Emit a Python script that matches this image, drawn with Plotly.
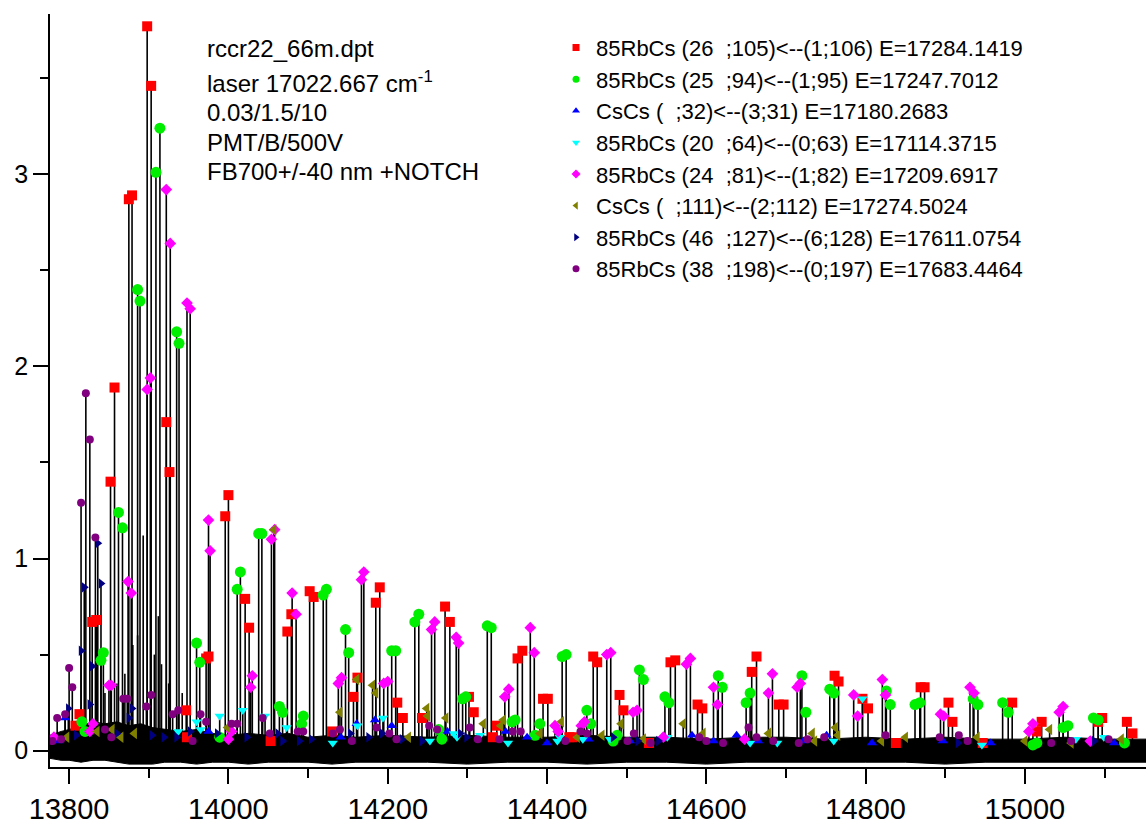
import plotly.graph_objects as go

# ---------------- data ----------------
rb26_105 = [(13898,3.77),(13903,3.46),(13875,2.87),(13879,2.89),(13857,1.89),(13852,1.40),(13922,1.71),(13926,1.45),
            (14000,1.33),(13996,1.22),(13829,0.67),(13834,0.68),(13808,0.13),(13813,0.19),(13947,0.21),(13948,0.07),
            (13972,0.48),(13975,0.49),(14021,0.79),(14026,0.64),(14053,0.05),(14074,0.62),(14079,0.71),(14102,0.83),
            (14107,0.80),(14130,0.10),(14157,0.28),(14162,0.38),(14185,0.77),(14190,0.85),(14212,0.25),(14219,0.17),
            (14243,0.17),(14272,0.75),(14278,0.67),(14302,0.28),(14308,0.20),(14332,0.07),(14337,0.13),(14363,0.48),
            (14369,0.52),(14395,0.27),(14401,0.27),(14428,0.07),(14432,0.07),(14458,0.49),(14463,0.46),(14491,0.29),
            (14496,0.21),(14528,0.04),(14555,0.46),(14561,0.47),(14589,0.24),(14595,0.22),(14657,0.41),(14663,0.49),
            (14691,0.24),(14697,0.24),(14761,0.39),(14766,0.36),(14796,0.27),(14803,0.22),(14838,0.04),(14869,0.33),
            (14874,0.33),(14904,0.25),(14909,0.15),(14947,0.04),(14984,0.25),(15015,0.10),(15021,0.15),(15092,0.15),
            (15097,0.17),(15128,0.15),(15135,0.09)]

rb25_94 = [(13914,3.24),(13909,3.01),(13886,2.40),(13889,2.34),(13935,2.18),(13938,2.12),(13862,1.24),(13867,1.16),
           (14015,0.93),(14011,0.84),(14038,1.13),(14042,1.13),(14119,0.81),(14123,0.84),(13843,0.51),(13840,0.47),
           (13960,0.56),(13964,0.46),(14147,0.63),(14151,0.51),(14234,0.67),(14239,0.71),(14205,0.52),(14210,0.52),
           (14064,0.23),(14068,0.20),(13816,0.15),(13820,0.10),(14094,0.18),(14092,0.14),(13989,0.07),(14294,0.27),
           (14298,0.28),(14325,0.65),(14330,0.64),(14356,0.15),(14360,0.16),(14264,0.11),(14268,0.06),(14385,0.08),
           (14391,0.14),(14419,0.49),(14424,0.50),(14450,0.21),(14455,0.14),(14483,0.05),(14488,0.08),(14516,0.42),
           (14521,0.37),(14548,0.28),(14553,0.25),(14615,0.39),(14620,0.33),(14650,0.25),(14655,0.30),(14720,0.39),
           (14725,0.20),(14755,0.32),(14760,0.30),(14826,0.31),(14831,0.24),(14862,0.24),(14868,0.25),(14935,0.27),
           (14941,0.24),(14972,0.25),(14979,0.20),(15010,0.03),(15015,0.04),(15048,0.12),(15054,0.13),(15086,0.17),
           (15092,0.16),(15125,0.04)]

cs_32 = [(13787,0.05),(13795,0.17),(13975,0.10),(14141,0.07),(14161,0.14),(14184,0.16),(14205,0.13),(14275,0.10),
         (14348,0.10),(14375,0.07),(14400,0.04),(14452,0.06),(14504,0.05),(14582,0.08),(14609,0.05),(14638,0.08),
         (14665,0.05),(14722,0.05),(14751,0.08),(14808,0.04),(14897,0.05),(14957,0.04),(15112,0.04)]

rb20_64 = [(13937,0.10),(13960,0.15),(13965,0.11),(13989,0.18),(14018,0.21),(14046,0.18),(14073,0.12),(14131,0.04),
           (14162,0.13),(14194,0.17),(14253,0.05),(14283,0.09),(14287,0.07),(14316,0.08),(14351,0.04),(14413,0.05),
           (14416,0.07),(14445,0.06),(14479,0.06),(14551,0.07),(14655,0.04),(14689,0.04),(14760,0.05),(14796,0.27),
           (14946,0.03),(15064,0.06),(15099,0.07)]

rb24_81 = [(13922,2.92),(13927,2.64),(13948,2.33),(13952,2.30),(13902,1.94),(13898,1.88),(13975,1.20),(13977,1.04),
           (13874,0.88),(13878,0.82),(13850,0.34),(13853,0.34),(14058,1.15),(14054,1.10),(14080,0.82),(14085,0.71),
           (14170,0.93),(14167,0.89),(14030,0.39),(14028,0.33),(14142,0.38),(14138,0.35),(14200,0.36),(14195,0.35),
           (13781,0.07),(13830,0.14),(13826,0.10),(14000,0.06),(14004,0.10),(14255,0.63),(14259,0.67),(14286,0.59),
           (14289,0.56),(14347,0.28),(14352,0.32),(14379,0.64),(14384,0.51),(14410,0.13),(14414,0.10),(14443,0.13),
           (14447,0.15),(14475,0.50),(14480,0.51),(14508,0.20),(14513,0.21),(14546,0.07),(14575,0.45),(14580,0.48),
           (14609,0.33),(14614,0.24),(14648,0.06),(14678,0.30),(14683,0.40),(14714,0.33),(14718,0.35),(14785,0.29),
           (14790,0.18),(14821,0.37),(14825,0.29),(14894,0.19),(14898,0.18),(14931,0.33),(14936,0.30),(15005,0.10),
           (15010,0.14),(15043,0.20),(15048,0.23),(15082,0.05)]

cs_111 = [(14057,1.15),(14161,0.37),(14181,0.34),(14185,0.30),(14140,0.20),(14249,0.22),(13797,0.07),(13835,0.10),
          (13854,0.11),(13865,0.07),(13882,0.09),(13999,0.12),(14226,0.07),(14250,0.18),(14273,0.17),(14320,0.14),
          (14342,0.13),(14345,0.16),(14391,0.09),(14418,0.15),(14438,0.07),(14469,0.08),(14493,0.14),(14521,0.06),
          (14571,0.14),(14596,0.09),(14678,0.09),(14733,0.09),(14736,0.05),(14762,0.12),(14765,0.08),(14820,0.05),
          (14850,0.07),(14940,0.07),(15000,0.05),(15031,0.11),(15058,0.04),(15121,0.06)]

rb46_127 = [(13836,1.08),(13840,0.87),(13819,0.85),(13815,0.52),(13829,0.44),(13826,0.24),(13799,0.22),(13879,0.22),
            (13809,0.08),(13860,0.09),(13875,0.17),(13904,0.08),(13919,0.07),(13935,0.07),(13952,0.10),(13986,0.09),
            (14023,0.07),(14062,0.09),(14068,0.05),(14089,0.05),(14104,0.06),(14153,0.09),(14176,0.07),(14193,0.09),
            (14218,0.06),(14243,0.05),(14291,0.09),(14299,0.07),(14483,0.07),(14514,0.05),(14540,0.05),(14916,0.04),
            (15087,0.05)]

rb38_198 = [(13821,1.86),(13826,1.62),(13815,1.29),(13833,1.11),(13800,0.43),(13804,0.33),(13785,0.17),(13795,0.19),
            (13779,0.05),(13790,0.06),(13845,0.11),(13853,0.07),(13868,0.27),(13873,0.27),(13897,0.23),(13903,0.29),
            (13930,0.19),(13937,0.21),(13955,0.05),(13965,0.19),(13972,0.15),(14004,0.14),(14011,0.14),(14043,0.17),
            (14052,0.09),(14087,0.10),(14094,0.10),(14131,0.09),(14140,0.11),(14155,0.05),(14186,0.12),(14202,0.09),
            (14211,0.06),(14252,0.13),(14262,0.11),(14303,0.12),(14313,0.06),(14340,0.06),(14357,0.10),(14367,0.10),
            (14423,0.05),(14442,0.10),(14450,0.09),(14501,0.05),(14509,0.09),(14530,0.04),(14591,0.07),(14600,0.05),
            (14621,0.04),(14653,0.12),(14663,0.07),(14684,0.05),(14716,0.04),(14727,0.06),(14748,0.07),(14825,0.08),
            (14893,0.07),(14917,0.08),(14928,0.05),(15033,0.04),(15058,0.05),(15105,0.06)]

# lines of the spectrum without an assignment marker
unassigned = [(13893,1.12),(13886,0.60),(13907,0.50),(13916,0.45),(13870,0.40),(13925,0.35),(13942,0.30),
              (13860,0.35),(13880,0.55),(13845,0.30),(13912,0.70)]

# noise band of the spectrum: upper and lower envelope
noise_x = [13776,13790,13800,13815,13830,13845,13860,13875,13890,13905,13920,13940,13960,13980,14000,14025,14050,
           14075,14100,14130,14160,14200,14250,14300,14350,14400,14450,14500,14550,14600,14650,14700,14750,14800,
           14850,14900,14950,15000,15050,15100,15152]
noise_hi = [0.08,0.10,0.11,0.13,0.15,0.14,0.15,0.13,0.14,0.12,0.11,0.10,0.11,0.09,0.08,0.09,0.08,0.09,0.07,0.08,
            0.07,0.08,0.07,0.08,0.07,0.07,0.08,0.07,0.07,0.06,0.07,0.07,0.06,0.07,0.06,0.07,0.06,0.06,0.07,0.06,0.06]
noise_lo = [-0.04,-0.05,-0.05,-0.06,-0.05,-0.05,-0.06,-0.07,-0.07,-0.07,-0.06,-0.06,-0.07,-0.06,-0.06,-0.07,-0.06,
            -0.06,-0.06,-0.07,-0.06,-0.06,-0.06,-0.07,-0.06,-0.06,-0.07,-0.06,-0.06,-0.07,-0.06,-0.06,-0.06,-0.06,
            -0.06,-0.07,-0.06,-0.06,-0.06,-0.06,-0.06]

legend_names = [
    "85RbCs (26\u00a0\u00a0;105)<--(1;106) E=17284.1419",
    "85RbCs (25\u00a0\u00a0;94)<--(1;95) E=17247.7012",
    "CsCs (\u00a0\u00a0;32)<--(3;31) E=17180.2683",
    "85RbCs (20\u00a0\u00a0;64)<--(0;63) E=17114.3715",
    "85RbCs (24\u00a0\u00a0;81)<--(1;82) E=17209.6917",
    "CsCs (\u00a0\u00a0;111)<--(2;112) E=17274.5024",
    "85RbCs (46\u00a0\u00a0;127)<--(6;128) E=17611.0754",
    "85RbCs (38\u00a0\u00a0;198)<--(0;197) E=17683.4464",
]
info_lines = ["rccr22_66m.dpt", "laser 17022.667 cm<sup>-1</sup>", "0.03/1.5/10", "PMT/B/500V",
              "FB700+/-40 nm +NOTCH"]

x_ticks = [13800, 14000, 14200, 14400, 14600, 14800, 15000]
y_ticks = [0, 1, 2, 3]

# ---------------- styles ----------------
series = [rb26_105, rb25_94, cs_32, rb20_64, rb24_81, cs_111, rb46_127, rb38_198]
styles = [
    dict(symbol="square", color="#FF0000", size=10),
    dict(symbol="circle", color="#00EE00", size=11),
    dict(symbol="triangle-up", color="#0000FF", size=9),
    dict(symbol="triangle-down", color="#00FFFF", size=9),
    dict(symbol="diamond", color="#FF00FF", size=9),
    dict(symbol="triangle-left", color="#808000", size=10),
    dict(symbol="triangle-right", color="#000080", size=9),
    dict(symbol="circle", color="#800080", size=8),
]
FONT = "Liberation Sans, Arial, sans-serif"

fig = go.Figure()

# noise band
fig.add_trace(go.Scatter(x=noise_x + noise_x[::-1], y=noise_hi + noise_lo[::-1], fill="toself",
                         fillcolor="black", line=dict(color="black", width=1), mode="lines",
                         showlegend=False, hoverinfo="skip"))

# stems
sx, sy = [], []
for pts in series + [unassigned]:
    for x, y in pts:
        sx += [x, x, None]
        sy += [0, y, None]
fig.add_trace(go.Scatter(x=sx, y=sy, mode="lines", line=dict(color="black", width=1.6),
                         showlegend=False, hoverinfo="skip"))

# markers
for pts, st, name in zip(series, styles, legend_names):
    fig.add_trace(go.Scatter(x=[p[0] for p in pts], y=[p[1] for p in pts], mode="markers",
                             marker=dict(symbol=st["symbol"], color=st["color"], size=st["size"], line=dict(width=0)),
                             name=name, showlegend=False))

# legend entries
for st, name in zip(styles, legend_names):
    fig.add_trace(go.Scatter(x=[None], y=[None], mode="markers",
                             marker=dict(symbol=st["symbol"], color=st["color"], size=7, line=dict(width=0)),
                             name=name, showlegend=True))

line_y = [0.9539, 0.9091, 0.8695, 0.8300, 0.7904]
for txt, yy in zip(info_lines, line_y):
    fig.add_annotation(text=txt, xref="paper", yref="paper", x=0.1414, y=yy, xanchor="left", yanchor="middle",
                       showarrow=False, font=dict(family=FONT, size=24, color="black"))

fig.update_layout(
    width=1146, height=825,
    margin=dict(l=50, r=0, t=14, b=52),
    paper_bgcolor="white", plot_bgcolor="white",
    font=dict(family=FONT, color="black"),
    showlegend=True,
    legend=dict(x=0.4617, y=0.983, xanchor="left", yanchor="top", bgcolor="rgba(0,0,0,0)",
                font=dict(family=FONT, size=22, color="black"), itemsizing="trace"),
    xaxis=dict(range=[13776, 15152], tickvals=x_ticks, ticktext=[str(v) for v in x_ticks],
               ticks="outside", ticklen=15, tickwidth=1.5,
               tickcolor="black", showline=True, linecolor="black", linewidth=1.5, showgrid=False,
               zeroline=False, tickfont=dict(family=FONT, size=29, color="black"),
               minor=dict(dtick=100, ticks="outside", ticklen=9, tickwidth=1.5, tickcolor="black", showgrid=False)),
    yaxis=dict(range=[-0.085, 3.834], tickvals=y_ticks, ticktext=[str(v) for v in y_ticks],
               ticks="outside", ticklen=15, tickwidth=1.5,
               tickcolor="black", showline=True, linecolor="black", linewidth=1.5, showgrid=False,
               zeroline=False, tickfont=dict(family=FONT, size=25, color="black"),
               minor=dict(dtick=0.5, ticks="outside", ticklen=8, tickwidth=1.5, tickcolor="black", showgrid=False)),
)

fig.write_html("out.html")
